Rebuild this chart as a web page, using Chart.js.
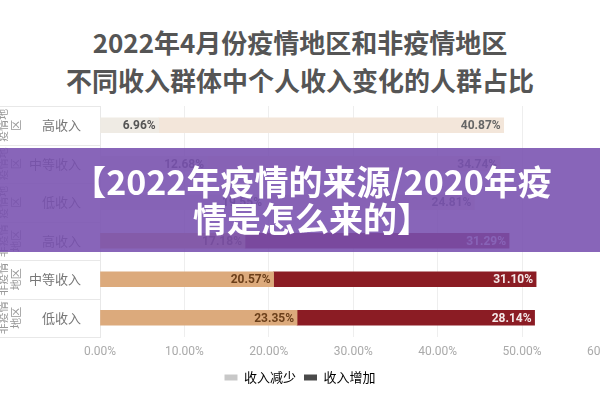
<!DOCTYPE html>
<html>
<head>
<meta charset="utf-8">
<script src="https://cdn.jsdelivr.net/npm/chart.js@4/dist/chart.umd.min.js"></script>
<style>
html, body { margin: 0; padding: 0; background: #fff; }
body { width: 600px; height: 400px; overflow: hidden; position: relative; font-family: "Noto Sans CJK SC", sans-serif; }
#title { position: absolute; top: 23px; left: 0; width: 600px; text-align: center; font-size: 26px; font-weight: bold; color: #555; line-height: 38px; }
#chart { position: absolute; left: 0; top: 0; }
#banner { position: absolute; left: 0; top: 148px; width: 600px; height: 104px; background: rgba(120, 80, 175, 0.88);
  color: #fff; font-weight: bold; font-size: 34px; line-height: 37px; text-align: center; padding-top: 14px; box-sizing: border-box; padding-left: 24px; white-space: nowrap; }
</style>
</head>
<body>
<div id="title">2022年4月份疫情地区和非疫情地区<br>不同收入群体中个人收入变化的人群占比</div>
<canvas id="chart" width="600" height="400"></canvas>
<div id="banner">【2022年疫情的来源/2020年疫<br>情是怎么来的】</div>
<script>
const categories = ['高收入', '中等收入', '低收入', '高收入', '中等收入', '低收入'];
const regions = [['疫情地', '区'], ['疫情地', '区'], ['疫情地', '区'], ['非疫情', '地区'], ['非疫情', '地区'], ['非疫情', '地区']];
const seriesNames = ['收入减少', '收入增加'];
const decrease = [6.96, 12.68, 19.55, 17.18, 20.57, 23.35];
const increase = [40.87, 34.74, 24.81, 31.29, 31.10, 28.14];
const xTicks = [0, 10, 20, 30, 40, 50, 60];

const decColors = ['#efebe4', '#efebe4', '#efebe4', '#dcaa7c', '#dcaa7c', '#dcaa7c'];
const incColors = ['#f3e6da', '#f3e6da', '#f3e6da', '#8b1c24', '#8b1c24', '#8b1c24'];
const decLabelColors = ['#555', '#555', '#555', '#6b3f1a', '#6b3f1a', '#6b3f1a'];
const incLabelColors = ['#666', '#666', '#666', '#f4e8e8', '#f4e8e8', '#f4e8e8'];

// row lines, region text and value labels
const tablePlugin = {
    id: 'table',
    beforeDraw(chart) {
        const ctx = chart.ctx;
        const y = chart.scales.y;
        ctx.save();
        ctx.strokeStyle = '#e8e8e8';
        ctx.lineWidth = 1;
        for (let i = 0; i <= categories.length; i++) {
            const py = Math.round(y.getPixelForValue(i - 0.5)) + 0.5;
            ctx.beginPath();
            ctx.moveTo(0, py);
            ctx.lineTo(y.right, py);
            ctx.stroke();
        }
        ctx.fillStyle = '#999';
        ctx.font = '11px "Noto Sans CJK SC"';
        ctx.textAlign = 'center';
        ctx.textBaseline = 'middle';
        regions.forEach((r, i) => {
            const cy = y.getPixelForValue(i);
            [3, 16].forEach((cx, k) => {
                ctx.save();
                ctx.translate(cx, cy);
                ctx.rotate(-Math.PI / 2);
                ctx.fillText(r[k], 0, 0);
                ctx.restore();
            });
        });
        ctx.restore();
    },
    afterDatasetsDraw(chart) {
        const ctx = chart.ctx;
        ctx.save();
        ctx.font = 'bold 12px Roboto';
        ctx.textAlign = 'right';
        ctx.textBaseline = 'middle';
        chart.data.datasets.forEach((ds, di) => {
            const cols = di === 0 ? decLabelColors : incLabelColors;
            chart.getDatasetMeta(di).data.forEach((bar, i) => {
                ctx.fillStyle = cols[i];
                ctx.fillText(ds.data[i].toFixed(2) + '%', bar.x - 3, bar.y + 1);
            });
        });
        ctx.restore();
    }
};

new Chart(document.getElementById('chart'), {
    type: 'bar',
    data: {
        labels: categories,
        datasets: [
            { label: seriesNames[0], data: decrease, backgroundColor: decColors, barThickness: 15 },
            { label: seriesNames[1], data: increase, backgroundColor: incColors, barThickness: 15 }
        ]
    },
    options: {
        indexAxis: 'y',
        responsive: false,
        animation: false,
        layout: { padding: { top: 106, bottom: 6, left: 0, right: 0 } },
        scales: {
            x: {
                stacked: true,
                min: 0,
                max: 59.24,
                afterBuildTicks: s => { s.ticks = xTicks.map(v => ({ value: v })); },
                afterFit: s => { s.paddingLeft = 0; s.paddingRight = 0; s.height = 26; },
                ticks: {
                    callback: v => v.toFixed(2) + '%',
                    color: '#aaa',
                    font: { family: 'Roboto', size: 12 },
                    padding: 8,
                    maxRotation: 0,
                    autoSkip: false
                },
                grid: { color: '#eeeeee', drawTicks: false },
                border: { display: false }
            },
            y: {
                stacked: true,
                afterFit: s => { s.width = 100; },
                ticks: { color: '#777', font: { family: 'Noto Sans CJK SC', size: 13 }, padding: 11 },
                grid: { display: false },
                border: { color: '#e8e8e8' }
            }
        },
        plugins: {
            legend: {
                position: 'bottom',
                labels: {
                    boxWidth: 13,
                    boxHeight: 6,
                    color: '#888',
                    padding: 8,
                    font: { family: 'Noto Sans CJK SC', size: 13 },
                    generateLabels: () => seriesNames.map((n, i) => ({
                        text: n,
                        fillStyle: i === 0 ? '#c8c8c8' : '#4a4a4a',
                        strokeStyle: i === 0 ? '#c8c8c8' : '#4a4a4a',
                        lineWidth: 0,
                        datasetIndex: i
                    }))
                }
            },
            tooltip: { enabled: false }
        }
    },
    plugins: [tablePlugin]
});
</script>
</body>
</html>
